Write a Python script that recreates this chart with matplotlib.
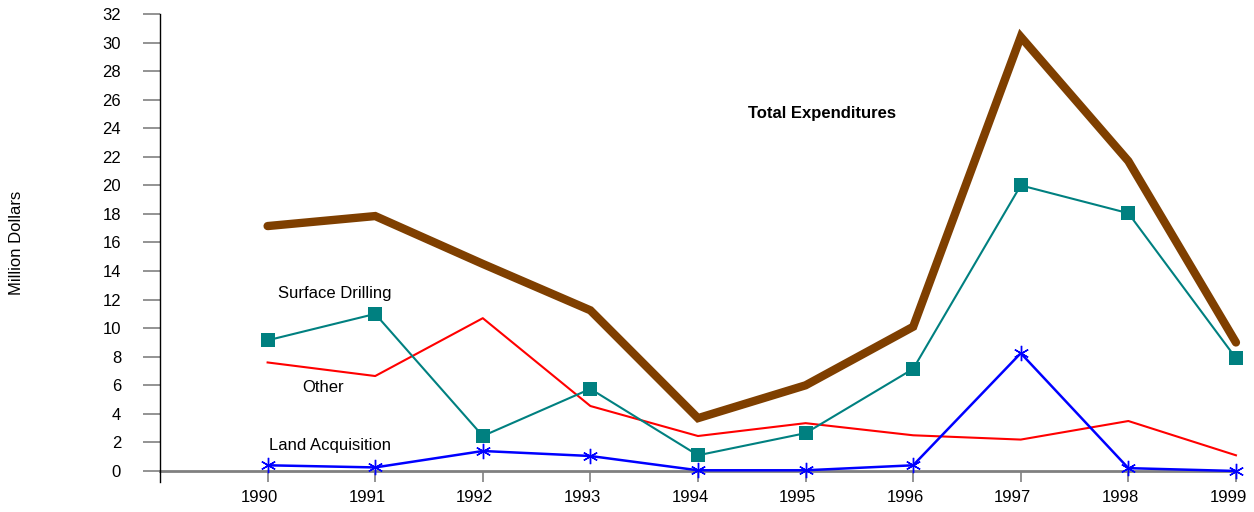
import matplotlib.pyplot as plt
from matplotlib.transforms import ScaledTranslation

plt.rcParams["font.family"] = ["Liberation Sans", "DejaVu Sans"]

years = [1990, 1991, 1992, 1993, 1994, 1995, 1996, 1997, 1998, 1999]
total = [17.15, 17.85, 14.5, 11.25, 3.7, 6.0, 10.1, 30.4, 21.7, 9.0]
surface_drilling = [9.15, 11.0, 2.45, 5.75, 1.1, 2.65, 7.15, 20.0, 18.05, 7.9]
other = [7.6, 6.65, 10.7, 4.55, 2.45, 3.35, 2.5, 2.2, 3.5, 1.1]
land_acquisition = [0.4, 0.25, 1.4, 1.05, 0.05, 0.05, 0.4, 8.25, 0.2, 0.0]
y_ticks = list(range(0, 33, 2))

fig = plt.figure(figsize=(12.54, 5.12), dpi=100)
ax = fig.add_axes([0.1276, 0.0586, 0.8580, 0.9141])

ax.plot(years, total, color="#7F3F00", linewidth=6, solid_capstyle="round",
        solid_joinstyle="miter", zorder=3, clip_on=False)
ax.plot(years, surface_drilling, color="#008080", linewidth=1.5, marker="s",
        markersize=10, markeredgewidth=0, zorder=4, clip_on=False)
ax.plot(years, other, color="#FF0000", linewidth=1.5, zorder=2, clip_on=False)
ax.plot(years, land_acquisition, color="#0000FF", linewidth=1.8,
        marker=(6, 2, 0), markersize=11, markeredgewidth=1.0, zorder=5,
        clip_on=False)

# series labels
ax.text(1990.62, 12.4, "Surface Drilling", ha="center", va="center", fontsize=12)
ax.text(1990.52, 5.88, "Other", ha="center", va="center", fontsize=12)
ax.text(1990.58, 1.82, "Land Acquisition", ha="center", va="center", fontsize=12)
ax.text(1995.15, 25.0, "Total Expenditures", ha="center", va="center",
        fontsize=12, fontweight="bold")

ax.set_xlim(1989, 1999)
ax.set_ylim(-0.77, 32)
ax.set_yticks(y_ticks)
ax.set_xticks(years)
ax.set_xticklabels([str(y) for y in years])

ax.spines["top"].set_visible(False)
ax.spines["right"].set_visible(False)
ax.spines["left"].set_color("black")
ax.spines["left"].set_linewidth(1.0)
ax.spines["bottom"].set_position(("data", 0))
ax.spines["bottom"].set_color("#808080")
ax.spines["bottom"].set_linewidth(2)
ax.spines["bottom"].set_zorder(1)

ax.tick_params(axis="y", direction="out", length=12, width=1.2, color="#808080",
               labelsize=12, pad=16)
ax.tick_params(axis="x", direction="out", length=8, width=1.2, color="#808080",
               labelsize=12, pad=6)

# year labels sit a little left of their ticks
shift = ScaledTranslation(-8 / 100, 0, fig.dpi_scale_trans)
for lbl in ax.get_xticklabels():
    lbl.set_transform(lbl.get_transform() + shift)

ax.set_ylabel("Million Dollars", fontsize=12)
ax.yaxis.set_label_coords(-0.126, 0.51)

fig.savefig("out.png", dpi=100)
